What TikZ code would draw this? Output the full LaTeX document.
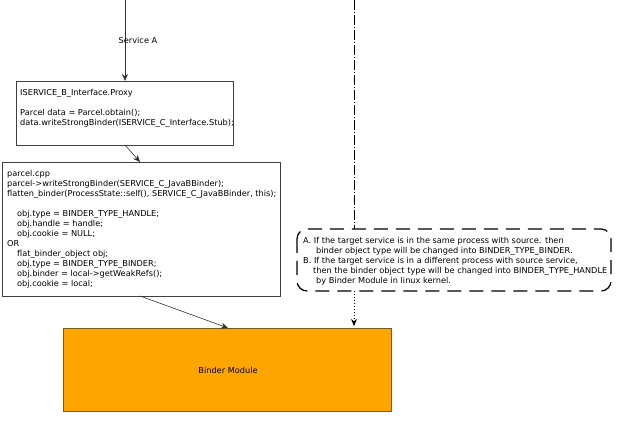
\documentclass[tikz,border=0pt]{standalone}
\usepackage{fontspec}
\setmainfont{DejaVu Sans}
\usetikzlibrary{arrows.meta,positioning}
\definecolor{binderfill}{HTML}{FFA500}
\definecolor{binderedge}{HTML}{7A5A10}
\tikzset{
  codebox/.style={draw=black!75, line width=0.6pt, fill=white, inner sep=0pt},
  codetext/.style={font=\fontsize{8.2}{10}\selectfont, align=left, anchor=north west, inner sep=0pt},
  arr/.style={-{Stealth[length=7pt,width=6pt]}, line width=0.6pt, black!80},
  notebox/.style={draw=black, line width=1.2pt, dash pattern=on 14pt off 8pt, rounded corners=10pt},
}
\begin{document}
\begin{tikzpicture}[x=1pt,y=-1pt]
\useasboundingbox (0,0) rectangle (630,427);
% proxy box
\draw[codebox] (16,81) rectangle (233,145);
\coordinate (proxyN) at (125,81);
\coordinate (proxyS) at (125,145);
\node[codetext] (proxytxt) at (20,89.5) {ISERVICE\_B\_Interface.Proxy};
\node[codetext] (proxytxt2) at (20,109) {Parcel data = Parcel.obtain();\\data.writeStrongBinder(ISERVICE\_C\_Interface.Stub);};
% parcel box
\draw[codebox] (2,162) rectangle (280,296);
\coordinate (parcelN) at (140,162);
\coordinate (parcelS) at (140,296);
\node[codetext] (parceltxt) at (7,170.5) {parcel.cpp\\
parcel->writeStrongBinder(SERVICE\_C\_JavaBBinder);\\
flatten\_binder(ProcessState::self(), SERVICE\_C\_JavaBBinder, this);\\[10pt]
\hspace*{10pt}obj.type = BINDER\_TYPE\_HANDLE;\\
\hspace*{10pt}obj.handle = handle;\\
\hspace*{10pt}obj.cookie = NULL;\\
OR\\
\hspace*{10pt}flat\_binder\_object obj;\\
\hspace*{10pt}obj.type = BINDER\_TYPE\_BINDER;\\
\hspace*{10pt}obj.binder = local->getWeakRefs();\\
\hspace*{10pt}obj.cookie = local;};
% binder module
\draw[fill=binderfill, draw=binderedge, line width=0.6pt] (63,328) rectangle (391,411);
\node[font=\fontsize{8.2}{9}\selectfont, inner sep=0pt] (binder) at (228,370) {Binder Module};
\coordinate (binderN) at (228,328);
\coordinate (binderNR) at (354,326);
% note box
\draw[notebox] (297,229) rectangle (611,291);
\coordinate (noteN) at (354,229);
\coordinate (noteS) at (354,291);
\node[codetext] (notetxt) at (303,237) {A. If the target service is in the same process with source. then\\
\hspace*{13pt}binder object type will be changed into BINDER\_TYPE\_BINDER.\\
B. If the target service is in a different process with source service,\\
\hspace*{10pt}then the binder object type will be changed into BINDER\_TYPE\_HANDLE\\
\hspace*{13pt}by Binder Module in linux kernel.};
% top
\coordinate (topA) at (125,0);
\coordinate (topB) at (354,0);
\draw[arr] (topA) -- (proxyN);
\node[font=\fontsize{8.2}{9}\selectfont, inner sep=1pt] (svcA) at (138,40) {Service A};
\draw[arr] (proxyS) -- (parcelN);
\draw[arr] (parcelS) -- (binderN);
\draw[line width=0.9pt, dash pattern=on 10pt off 2pt on 1pt off 2pt] (topB) -- (noteN);
\draw[-{Stealth[length=7pt,width=6pt]}, line width=0.9pt, dash pattern=on 1pt off 2pt] (noteS) -- (binderNR);
\end{tikzpicture}
\end{document}
